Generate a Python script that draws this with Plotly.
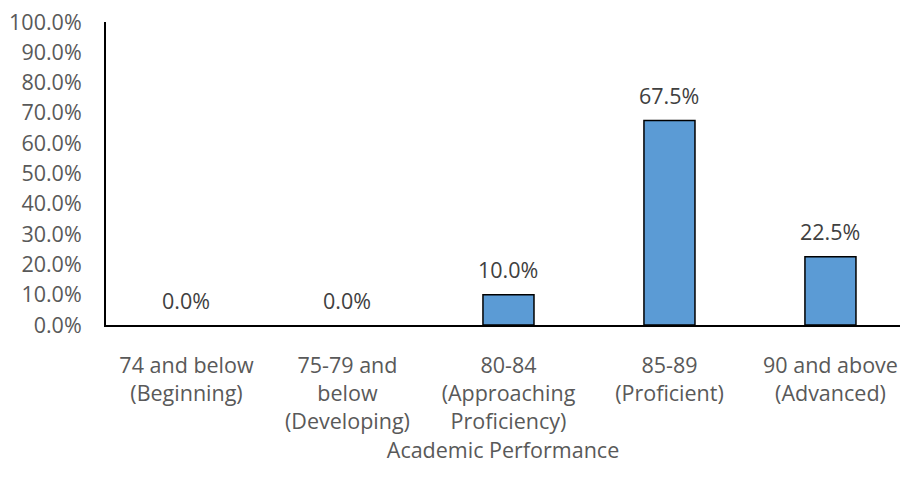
import plotly.graph_objects as go

# Distribution of students by academic performance band
categories = [
    "74 and below<br>(Beginning)",
    "75-79 and<br>below<br>(Developing)",
    "80-84<br>(Approaching<br>Proficiency)",
    "85-89<br>(Proficient)",
    "90 and above<br>(Advanced)",
]
percentages = [0.0, 0.0, 10.0, 67.5, 22.5]
y_ticks = [0, 10, 20, 30, 40, 50, 60, 70, 80, 90, 100]
y_tick_labels = [f"{v:.1f}%" for v in y_ticks]

FONT = "Open Sans"
GREY = "#595959"
SIZE = 21.5

fig = go.Figure()
fig.add_trace(go.Bar(
    x=list(range(len(categories))),
    y=percentages,
    width=0.317,
    marker=dict(
        color="#5B9BD5",
        # empty bands get no outline so nothing shows on the baseline
        line=dict(color="black", width=[1.5 if v > 0 else 0 for v in percentages]),
    ),
    hoverinfo="skip",
))

# value labels above each bar
for i, v in enumerate(percentages):
    fig.add_annotation(
        x=i, y=v, text=f"{v:.1f}%", showarrow=False,
        yanchor="middle", yshift=25,
        font=dict(family=FONT, size=SIZE, color="#404040"),
    )

fig.update_layout(
    width=900, height=482,
    margin=dict(l=106, r=0, t=22, b=157),
    plot_bgcolor="white", paper_bgcolor="white",
    showlegend=False,
    font=dict(family=FONT, size=SIZE, color=GREY),
    xaxis=dict(
        range=[-0.5, 4.432],
        tickmode="array",
        tickvals=list(range(len(categories))),
        ticktext=categories,
        showline=True, linecolor="black", linewidth=2,
        showgrid=False, zeroline=False, ticks="",
        ticklabelstandoff=20,
        tickfont=dict(family=FONT, size=SIZE, color=GREY),
        title=dict(text="Academic Performance", standoff=7,
                   font=dict(family=FONT, size=SIZE, color=GREY)),
    ),
    yaxis=dict(
        range=[0, 100],
        tickmode="array",
        tickvals=y_ticks,
        ticktext=y_tick_labels,
        showline=True, linecolor="black", linewidth=2,
        showgrid=False, zeroline=False, ticks="",
        ticklabelstandoff=18,
        tickfont=dict(family=FONT, size=SIZE, color=GREY),
    ),
)

fig.write_html("out.html")
